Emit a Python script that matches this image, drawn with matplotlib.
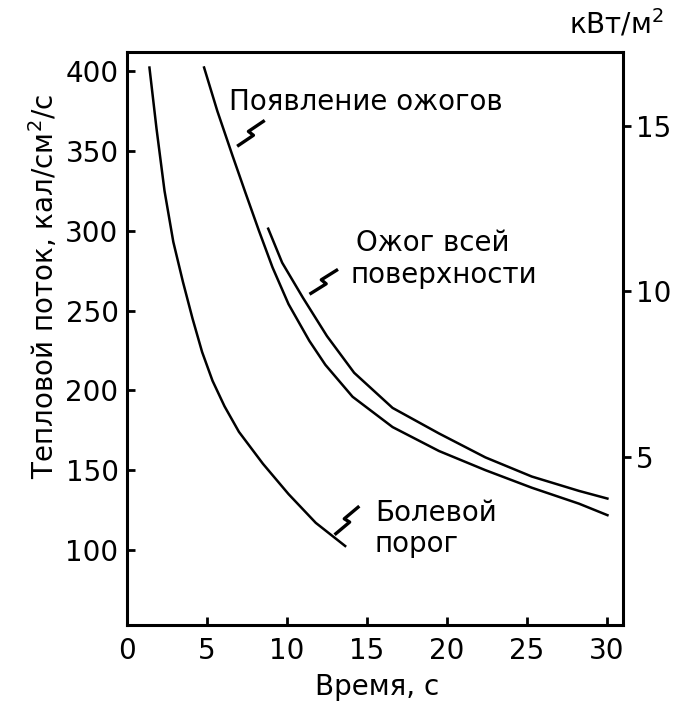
import matplotlib

matplotlib.use("Agg")

import matplotlib.pyplot as plt
import matplotlib.transforms as mtransforms

plt.rcParams["font.family"] = ["DejaVu Sans"]

# Болевой порог
pain_t = [1.4, 1.85, 2.35, 2.9, 3.5, 4.1, 4.7, 5.35, 6.1, 7.0, 8.5, 10.1, 11.8, 13.7]
pain_q = [403, 364, 325, 293, 268, 245, 224, 206, 190, 174, 154, 135, 117, 102]

# Появление ожогов
burns_t = [4.8, 5.65, 6.6, 7.4, 8.25, 9.1, 10.1, 11.4, 12.4, 14.1, 16.6, 19.5, 22.4, 25.3, 28.25, 30.1]
burns_q = [403, 375, 347, 324, 300, 277, 254, 231, 216, 196, 177, 162, 150, 139, 129, 121.5]

# Ожог всей поверхности
full_t = [8.8, 9.7, 11.0, 12.5, 14.2, 16.6, 19.5, 22.4, 25.3, 28.25, 30.1]
full_q = [302, 280, 258, 234, 211, 189, 173, 158, 146, 137, 132]

x_ticks = [0, 5, 10, 15, 20, 25, 30]
y_ticks = [100, 150, 200, 250, 300, 350, 400]
kw_ticks = [5, 10, 15]

# подписи: текст, t, q
labels = [
    ("Появление ожогов", 6.4, 380.5),
    ("Ожог всей", 14.3, 292),
    ("поверхности", 14.0, 272),
    ("Болевой", 15.5, 123),
    ("порог", 15.5, 104),
]
# значки-выноски: t, q, угол
leaders = [
    (7.75, 361, 34),
    (12.3, 268, 32),
    (13.75, 118.5, 40),
]

FS = 20

fig = plt.figure(figsize=(6.75, 7.02), dpi=100)
ax = fig.add_axes([0.188, 0.1097, 0.735, 0.8163])

for t, q in ((pain_t, pain_q), (burns_t, burns_q), (full_t, full_q)):
    ax.plot(t, q, color="black", linewidth=1.8, solid_capstyle="butt",
            solid_joinstyle="round")

ax.set_xlim(0, 31)
ax.set_ylim(53, 412)
ax.set_xticks(x_ticks)
ax.set_yticks(y_ticks)
ax.tick_params(axis="both", direction="in", length=6, width=2, labelsize=FS, pad=9)
ax.tick_params(axis="y", right=False, pad=6)
ax.tick_params(axis="x", top=False)
for spine in ax.spines.values():
    spine.set_linewidth(2.2)

ax.set_xlabel("Время, с", fontsize=FS, va="center")
ax.xaxis.set_label_coords(0.505, -0.108)
ax.set_ylabel("Тепловой поток, кал/см$^2$/с", fontsize=FS, va="center")
ax.yaxis.set_label_coords(-0.169, 0.591)

ax2 = ax.twinx()
ax2.set_ylim(-0.1, 17.25)
ax2.set_yticks(kw_ticks)
ax2.tick_params(axis="y", direction="out", length=6, width=2, labelsize=FS, pad=3)
for spine in ax2.spines.values():
    spine.set_visible(False)
ax2.text(0.986, 1.049, "кВт/м$^2$", transform=ax.transAxes, fontsize=FS,
         ha="center", va="center")

for text, t, q in labels:
    ax.text(t, q, text, fontsize=FS, ha="left", va="center")

zig = [(-17, -3), (1, -3), (-1, 3), (17, 3)]
for t, q, angle in leaders:
    tr = mtransforms.Affine2D().rotate_deg(angle) + mtransforms.ScaledTranslation(t, q, ax.transData)
    ax.plot([p[0] for p in zig], [p[1] for p in zig], color="black", linewidth=2.4,
            transform=tr, clip_on=False)

fig.savefig("out.png", dpi=100)
